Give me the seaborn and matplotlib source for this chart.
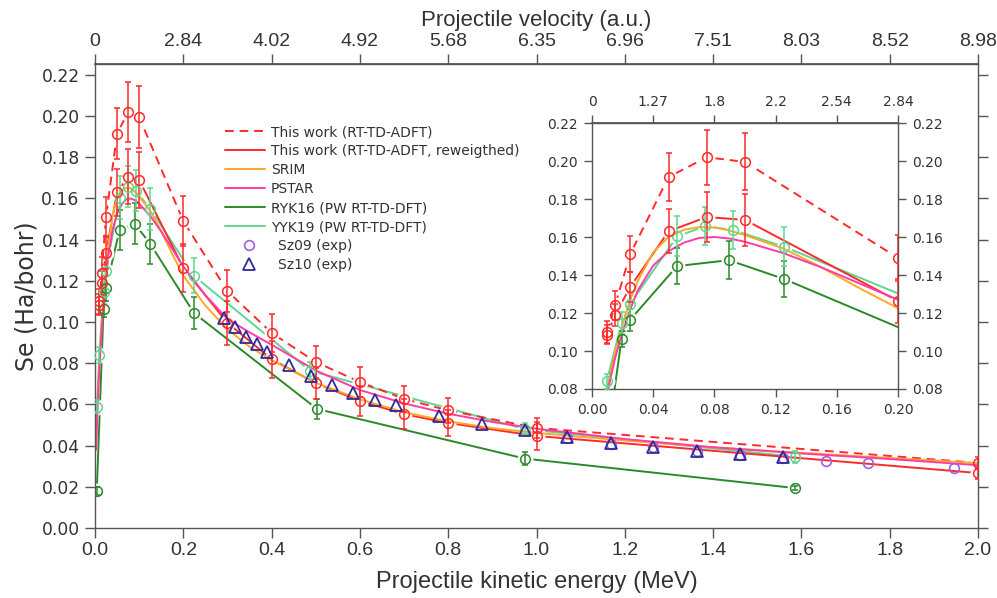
import matplotlib
matplotlib.use("Agg")
import matplotlib.pyplot as plt
import seaborn as sns
import pandas as pd
from matplotlib.lines import Line2D

# ---------------- data ----------------
# This work (RT-TD-ADFT)  and reweighted
tw_E = [0.01, 0.015, 0.025, 0.05, 0.075, 0.1, 0.2, 0.3, 0.4, 0.5, 0.6, 0.7, 0.8, 1.0, 2.0]
tw_S = [0.110, 0.124, 0.151, 0.1915, 0.202, 0.1995, 0.149, 0.115, 0.0947, 0.0806, 0.0709, 0.0627, 0.0571, 0.0486, 0.0316]
tw_err = [0.006, 0.0077, 0.0095, 0.0125, 0.0145, 0.015, 0.012, 0.0103, 0.0093, 0.0078, 0.0071, 0.0064, 0.006, 0.0048, 0.003]
rw_S = [0.1085, 0.119, 0.1337, 0.163, 0.1705, 0.169, 0.1263, 0.0996, 0.082, 0.0703, 0.0617, 0.0553, 0.051, 0.0447, 0.0267]
rw_err = [0.005, 0.006, 0.008, 0.0115, 0.0133, 0.0135, 0.0115, 0.0107, 0.009, 0.0076, 0.0074, 0.0073, 0.0063, 0.0068, 0.003]

# SRIM and PSTAR curves
mod_E = [0.0025, 0.005, 0.0075, 0.01, 0.015, 0.02, 0.025, 0.03, 0.04, 0.05, 0.06, 0.07, 0.08, 0.09,
         0.1, 0.125, 0.15, 0.175, 0.2, 0.25, 0.3, 0.35, 0.4, 0.5, 0.6, 0.7, 0.8, 0.9, 1.0, 1.2, 1.4, 1.6, 1.8, 2.0]
srim_S = [0.040, 0.057, 0.070, 0.081, 0.099, 0.114, 0.127, 0.137, 0.152, 0.160, 0.1638, 0.1652, 0.1650, 0.1634,
          0.161, 0.154, 0.144, 0.133, 0.1225, 0.108, 0.0965, 0.088, 0.0815, 0.0705, 0.0625, 0.0562, 0.0518, 0.0485,
          0.0462, 0.0425, 0.0392, 0.0365, 0.0340, 0.0315]
pstar_S = [0.038, 0.055, 0.068, 0.078, 0.096, 0.110, 0.122, 0.132, 0.145, 0.1525, 0.157, 0.1595, 0.160, 0.1592,
           0.1575, 0.1515, 0.144, 0.1355, 0.127, 0.113, 0.1015, 0.095, 0.089, 0.0765, 0.067, 0.0605, 0.0555, 0.0515,
           0.0482, 0.0432, 0.0392, 0.0362, 0.0335, 0.0305]

# RYK16 (PW RT-TD-DFT)
ryk_E = [0.004, 0.0193, 0.0248, 0.0556, 0.0895, 0.1255, 0.224, 0.503, 0.974, 1.586]
ryk_S = [0.018, 0.1063, 0.1163, 0.1447, 0.1478, 0.1379, 0.1044, 0.0578, 0.0337, 0.0194]
ryk_err = [0.002, 0.004, 0.006, 0.0095, 0.010, 0.0095, 0.008, 0.005, 0.003, 0.001]

# YYK19 (PW RT-TD-DFT)
yyk_E = [0.005, 0.0096, 0.0193, 0.0248, 0.0556, 0.074, 0.0922, 0.1255, 0.224, 0.487, 0.974, 1.586]
yyk_S = [0.059, 0.084, 0.1147, 0.1247, 0.1603, 0.1657, 0.1637, 0.1549, 0.1224, 0.0764, 0.048, 0.0346]
yyk_err = [0.003, 0.004, 0.006, 0.006, 0.0105, 0.010, 0.010, 0.0102, 0.0085, 0.004, 0.003, 0.003]

# experiments
sz09_E = [1.07, 1.169, 1.264, 1.363, 1.461, 1.558, 1.656, 1.751, 1.946]
sz09_S = [0.0437, 0.0410, 0.0392, 0.0373, 0.0356, 0.0342, 0.0327, 0.0315, 0.0293]
sz10_E = [0.292, 0.317, 0.341, 0.366, 0.390, 0.440, 0.489, 0.537, 0.585, 0.634, 0.682, 0.779, 0.877, 0.974,
          1.07, 1.169, 1.264, 1.363, 1.461, 1.558]
sz10_S = [0.1020, 0.0976, 0.0929, 0.0893, 0.0857, 0.0792, 0.0740, 0.0694, 0.0657, 0.0622, 0.0597, 0.0545,
          0.0505, 0.0476, 0.0442, 0.0414, 0.0395, 0.0376, 0.0359, 0.0345]

# axes ticks / labels
main_xticks = [0.0, 0.2, 0.4, 0.6, 0.8, 1.0, 1.2, 1.4, 1.6, 1.8, 2.0]
main_vel = ['0', '2.84', '4.02', '4.92', '5.68', '6.35', '6.96', '7.51', '8.03', '8.52', '8.98']
main_yticks = [0.00, 0.02, 0.04, 0.06, 0.08, 0.10, 0.12, 0.14, 0.16, 0.18, 0.20, 0.22]
in_xticks = [0.00, 0.04, 0.08, 0.12, 0.16, 0.20]
in_vel = ['0', '1.27', '1.8', '2.2', '2.54', '2.84']
in_yticks = [0.08, 0.10, 0.12, 0.14, 0.16, 0.18, 0.20, 0.22]

labels = ['This work (RT-TD-ADFT)', 'This work (RT-TD-ADFT, reweigthed)', 'SRIM', 'PSTAR',
          'RYK16 (PW RT-TD-DFT)', 'YYK19 (PW RT-TD-DFT)', 'Sz09 (exp)', 'Sz10 (exp)']

C_RED = '#ff2a2a'
C_SRIM = '#ffa726'
C_PSTAR = '#ff3da6'
C_RYK = '#2a8a2a'
C_YYK = '#5fd690'
C_SZ09 = '#a25de0'
C_SZ10 = '#2c2c9c'
SPINE = '#555555'
TXT = '#333333'

sns.set_theme(style='ticks')
plt.rcParams['font.family'] = ['DejaVu Sans']
NARROW = 'Liberation Sans'
DASH = (0, (4.5, 3.0))

fig = plt.figure(figsize=(9.97, 5.98), dpi=100)
ax = fig.add_axes([0.0953, 0.117, 0.8857, 0.776])
axin = fig.add_axes([0.5938, 0.3495, 0.3069, 0.4448])

LW = 1.4
MS = 7
BLANK = 11.5


def marked(a, E, S, err, color, ls, z):
    sns.lineplot(x=E, y=S, ax=a, color=color, linestyle=ls, lw=LW, estimator=None, sort=False,
                 legend=False, zorder=z)
    a.plot(E, S, ls='none', marker='o', ms=BLANK, mfc='white', mec='white', mew=0, zorder=z + 0.05)
    a.errorbar(E, S, yerr=err, fmt='o', ms=MS, mfc='none', mec=color, mew=1.1, ecolor=color,
               elinewidth=1.1, capsize=2.3, capthick=1.1, zorder=4)


def draw(a):
    marked(a, ryk_E, ryk_S, ryk_err, C_RYK, '-', 2.0)
    marked(a, yyk_E, yyk_S, yyk_err, C_YYK, '-', 2.1)
    marked(a, tw_E, rw_S, rw_err, C_RED, '-', 2.2)
    marked(a, tw_E, tw_S, tw_err, C_RED, DASH, 2.3)
    sns.lineplot(x=mod_E, y=srim_S, ax=a, color=C_SRIM, lw=LW, estimator=None, sort=False,
                 legend=False, zorder=2.4)
    sns.lineplot(x=mod_E, y=pstar_S, ax=a, color=C_PSTAR, lw=LW, estimator=None, sort=False,
                 legend=False, zorder=2.5)
    a.plot(sz09_E, sz09_S, ls='none', marker='o', ms=MS, mfc='none', mec=C_SZ09, mew=1.2, zorder=5)
    a.plot(sz10_E, sz10_S, ls='none', marker='^', ms=8, mfc='none', mec=C_SZ10, mew=1.3, zorder=5)


draw(ax)
draw(axin)


def style_axes(a):
    for s in a.spines.values():
        s.set_color(SPINE)
        s.set_linewidth(1.0)
        s.set_visible(True)


# ---- main axes ----
style_axes(ax)
ax.set_xlim(0, 2.0)
ax.set_ylim(0, 0.2253)
ax.set_xticks(main_xticks)
ax.set_xticklabels([f'{v:.1f}' for v in main_xticks], fontfamily=NARROW, fontsize=14)
ax.set_yticks(main_yticks)
ax.set_yticklabels([f'{v:.2f}' for v in main_yticks], fontsize=12.3)
ax.tick_params(axis='both', direction='out', length=7, width=1.0, color=SPINE, labelcolor=TXT)
ax.tick_params(axis='x', pad=3)
ax.tick_params(axis='y', pad=4, right=True, labelright=False)
ax.set_xlabel('Projectile kinetic energy (MeV)', fontfamily=NARROW, fontsize=17, color=TXT, labelpad=9)
ax.set_ylabel('Se (Ha/bohr)', fontsize=17, color=TXT, labelpad=2)

top = ax.secondary_xaxis('top')
top.set_xticks(main_xticks)
top.set_xticklabels(main_vel, fontfamily=NARROW, fontsize=14)
top.tick_params(direction='out', length=7, width=1.0, color=SPINE, labelcolor=TXT, pad=3)
top.spines['top'].set_color(SPINE)
top.set_xlabel('Projectile velocity (a.u.)', fontfamily=NARROW, fontsize=16, color=TXT, labelpad=5)

# ---- inset ----
style_axes(axin)
axin.set_xlim(0, 0.20)
axin.set_ylim(0.08, 0.22)
axin.set_xticks(in_xticks)
axin.set_xticklabels([f'{v:.2f}' for v in in_xticks], fontsize=10)
axin.set_yticks(in_yticks)
axin.set_yticklabels([f'{v:.2f}' for v in in_yticks], fontsize=10)
axin.tick_params(axis='both', direction='out', length=6, width=1.0, color=SPINE, labelcolor=TXT, pad=4)
axin.tick_params(axis='y', right=True, labelright=True)
axin.set_xlabel('')
axin.set_ylabel('')
itop = axin.secondary_xaxis('top')
itop.set_xticks(in_xticks)
itop.set_xticklabels(in_vel, fontsize=10)
itop.tick_params(direction='out', length=6, width=1.0, color=SPINE, labelcolor=TXT, pad=4)
itop.spines['top'].set_color(SPINE)

# ---- legends ----
line_handles = [
    Line2D([], [], color=C_RED, lw=LW, linestyle=DASH),
    Line2D([], [], color=C_RED, lw=LW),
    Line2D([], [], color=C_SRIM, lw=LW),
    Line2D([], [], color=C_PSTAR, lw=LW),
    Line2D([], [], color=C_RYK, lw=LW),
    Line2D([], [], color=C_YYK, lw=LW),
]
leg1 = ax.legend(line_handles, labels[:6], loc='upper left', bbox_to_anchor=(0.147, 0.868),
                 frameon=False, fontsize=10, handlelength=2.9, handletextpad=0.4,
                 labelspacing=0.36, borderpad=0, borderaxespad=0)
for t in leg1.get_texts():
    t.set_color(TXT)
ax.add_artist(leg1)
mark_handles = [
    Line2D([], [], ls='none', marker='o', ms=MS, mfc='none', mec=C_SZ09, mew=1.2),
    Line2D([], [], ls='none', marker='^', ms=8, mfc='none', mec=C_SZ10, mew=1.3),
]
leg2 = ax.legend(mark_handles, labels[6:], loc='upper left', bbox_to_anchor=(0.147, 0.623),
                 frameon=False, fontsize=10, handlelength=3.5, handletextpad=0.3,
                 labelspacing=0.36, borderpad=0, borderaxespad=0)
for t in leg2.get_texts():
    t.set_color(TXT)

fig.savefig('out.png', dpi=100)
